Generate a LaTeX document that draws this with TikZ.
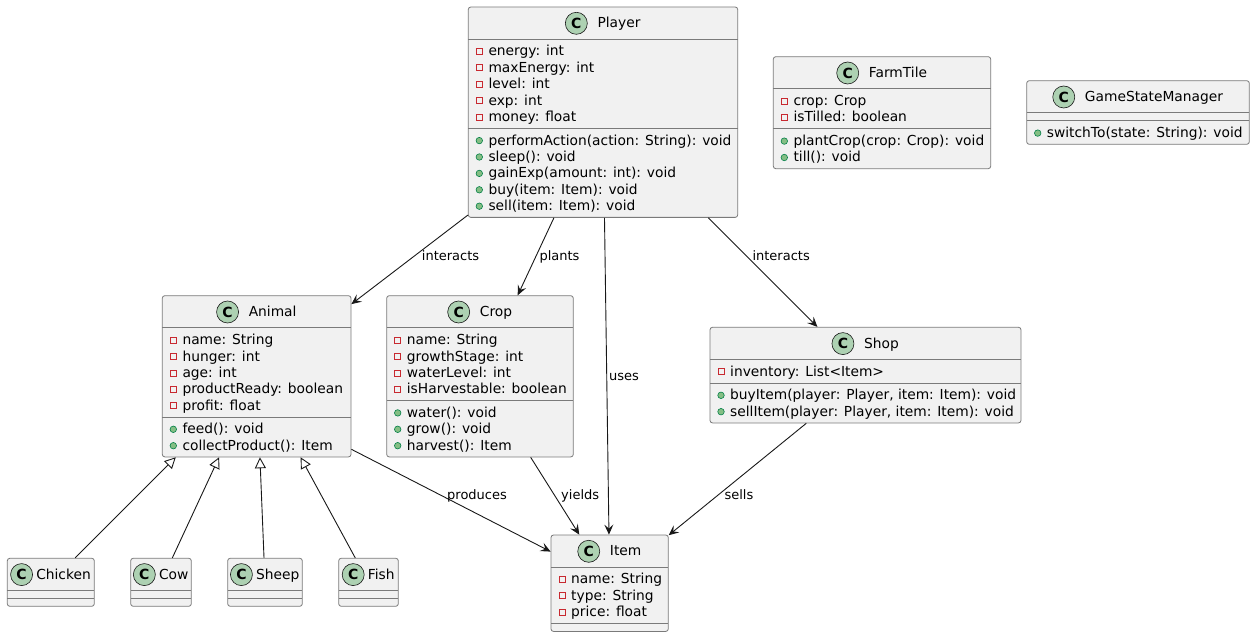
\documentclass[tikz,border=0pt]{standalone}
\usepackage{fontspec}
\setmainfont{DejaVu Sans}
\usetikzlibrary{calc,arrows.meta}

\definecolor{boxfill}{HTML}{F1F1F1}
\definecolor{ink}{HTML}{181818}
\definecolor{frame}{HTML}{7A7A7A}
\definecolor{iconfill}{HTML}{ADD1B2}
\definecolor{privred}{HTML}{C82930}
\definecolor{pubfill}{HTML}{84BE84}
\definecolor{pubdraw}{HTML}{038048}

\tikzset{
  classbox/.style={rectangle, draw=frame, fill=boxfill, line width=0.8pt, rounded corners=2.5pt, inner sep=0pt},
  sepline/.style={draw=frame, line width=0.8pt},
  titletext/.style={inner sep=0pt, text height=11pt, text depth=2.2pt, font=\fontsize{13.8}{16}\selectfont},
  classicon/.style={circle, draw=ink, fill=iconfill, line width=0.6pt, minimum size=22pt, inner sep=0pt, font=\fontsize{14}{14}\selectfont\bfseries},
  membertext/.style={anchor=base west, inner sep=0pt, font=\fontsize{13.8}{16}\selectfont},
  privicon/.style={rectangle, draw=privred, line width=0.7pt, minimum size=6pt, inner sep=0pt},
  pubicon/.style={circle, draw=pubdraw, fill=pubfill, line width=0.6pt, minimum size=6.5pt, inner sep=0pt},
  assoc/.style={draw=ink, line width=0.9pt, -{Stealth[length=10pt,width=9pt,inset=4pt]}},
  inherit/.style={draw=ink, line width=0.9pt, -{Triangle[open,length=11pt,width=11pt]}},
  edgelabel/.style={anchor=base west, inner sep=0pt, font=\fontsize{13}{15}\selectfont},
}

% \umlclass{name}{left}{top}{right}{title}{#attributes}{#methods}{attributes}{methods}
\newcommand\umlclass[9]{%
  \pgfmathsetmacro\hA{#6==0 ? 8 : 7.2+16.4*#6}%
  \pgfmathsetmacro\hM{#7==0 ? 8 : 7.2+16.4*#7}%
  \pgfmathsetmacro\sepA{#3+32}%
  \pgfmathsetmacro\sepM{\sepA+\hA}%
  \pgfmathsetmacro\cw{#4-#2}%
  \pgfmathsetmacro\ch{\sepM+\hM-#3}%
  \pgfmathsetmacro\cx{(#2+#4)/2}%
  \pgfmathsetmacro\hgap{(#6+#7)==0 ? 3.5 : 10}%
  \node[classbox, minimum width=\cw pt, minimum height=\ch pt] (#1) at ({\cx},{#3+\ch/2}) {};
  \draw[sepline] (#2,\sepA) -- (#4,\sepA);
  \draw[sepline] (#2,\sepM) -- (#4,\sepM);
  \node[titletext] (#1-title) at ({\cx+(22+\hgap)/2},{#3+16.3}) {#5};
  \node[classicon] (#1-icon) at ($(#1-title.west)+({-\hgap-11},0)$) {C};
  \ifnum#6>0
    \foreach \t [count=\i] in {#8} {
      \pgfmathsetmacro\yy{\sepA+12.4+16.4*(\i-1)}
      \node[privicon] (#1-ai\i) at ({#2+11},\yy) {};
      \node[membertext] (#1-a\i) at ({#2+20},{\yy+4.5}) {\t};
    }
  \fi
  \ifnum#7>0
    \foreach \t [count=\i] in {#9} {
      \pgfmathsetmacro\yy{\sepM+12.4+16.4*(\i-1)}
      \node[pubicon] (#1-mi\i) at ({#2+11},\yy) {};
      \node[membertext] (#1-m\i) at ({#2+20},{\yy+4.5}) {\t};
    }
  \fi
}

\begin{document}
\begin{tikzpicture}[x=1pt,y=-1pt]
\useasboundingbox (0,0) rectangle (1255,636);

% classes
\umlclass{player}{468.3}{7}{737.7}{Player}{5}{5}
  {energy: int, maxEnergy: int, level: int, exp: int, money: float}
  {{performAction(action: String): void}, sleep(): void, gainExp(amount: int): void, buy(item: Item): void, sell(item: Item): void}
\umlclass{farmtile}{773.3}{56.7}{990.7}{FarmTile}{2}{2}
  {crop: Crop, isTilled: boolean}
  {plantCrop(crop: Crop): void, till(): void}
\umlclass{gsm}{1026.7}{80.7}{1249.3}{GameStateManager}{0}{1}
  {}
  {switchTo(state: String): void}
\umlclass{animal}{162.3}{295.7}{351}{Animal}{5}{2}
  {name: String, hunger: int, age: int, productReady: boolean, profit: float}
  {feed(): void, collectProduct(): Item}
\umlclass{crop}{386.7}{295.7}{573.3}{Crop}{4}{3}
  {name: String, growthStage: int, waterLevel: int, isHarvestable: boolean}
  {water(): void, grow(): void, harvest(): Item}
\umlclass{shop}{710}{327.3}{1021}{Shop}{1}{2}
  {inventory: List<Item>}
  {{buyItem(player: Player, item: Item): void}, {sellItem(player: Player, item: Item): void}}
\umlclass{item}{551}{535}{668.3}{Item}{3}{0}
  {name: String, type: String, price: float}
  {}
\umlclass{chicken}{7.3}{558.3}{94.3}{Chicken}{0}{0}{}{}
\umlclass{cow}{130.7}{558.3}{191.3}{Cow}{0}{0}{}{}
\umlclass{sheep}{227.7}{558.3}{302.3}{Sheep}{0}{0}{}{}
\umlclass{fish}{338.7}{558.3}{398.3}{Fish}{0}{0}{}{}

% associations
\draw[assoc] (player) -- (animal);
\draw[assoc] (player) -- (crop);
\draw[assoc] (player) -- (item);
\draw[assoc] (player) -- (shop);
\draw[assoc] ($(animal.south east)+(0,-8)$) -- ($(item.north west)+(0,17)$);
\draw[assoc] (crop) -- (item);
\draw[assoc] (shop) -- (item);

% generalisations
\draw[inherit] (chicken) -- (animal);
\draw[inherit] (cow) -- (animal);
\draw[inherit] (sheep) -- (animal);
\draw[inherit] (fish) -- (animal);

% edge labels
\node[edgelabel] (lbl-interacts-a) at (421.7,260.7) {interacts};
\node[edgelabel] (lbl-plants) at (539.3,260.7) {plants};
\node[edgelabel] (lbl-interacts-s) at (752.3,260.7) {interacts};
\node[edgelabel] (lbl-uses) at (609,380.5) {uses};
\node[edgelabel] (lbl-produces) at (447,499.3) {produces};
\node[edgelabel] (lbl-yields) at (561,499.3) {yields};
\node[edgelabel] (lbl-sells) at (724.3,499.3) {sells};
\end{tikzpicture}
\end{document}
